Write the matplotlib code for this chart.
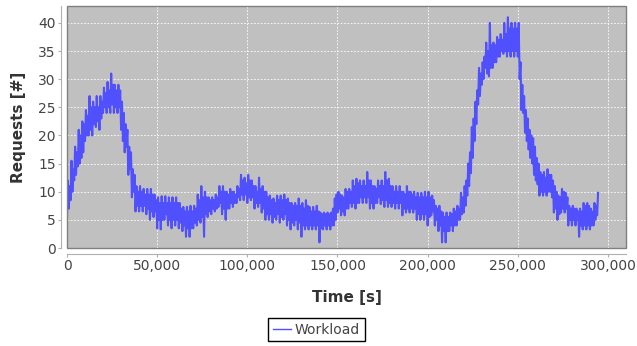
import numpy as np
import matplotlib
matplotlib.use("Agg")
import matplotlib.pyplot as plt
from matplotlib.patches import Rectangle

# Workload samples (requests), one every 500 s
workload = [
    6, 12, 7, 11, 8.5, 15.5, 10, 14, 12, 18, 13, 17, 14.5, 21, 15, 20, 16, 22.5, 17, 22,
    19, 24.5, 20, 23.5, 20, 27, 21, 25, 20, 26, 22, 25, 21.5, 27, 22.5, 25, 21, 27, 23, 26,
    24, 28.5, 25, 27.5, 24, 29.5, 25, 28, 24, 31, 25.5, 29, 24, 29, 25, 28, 24, 29, 25, 28,
    21, 26, 19, 24, 17, 22, 18, 21, 13, 18, 14, 17, 9, 14, 10, 13, 6.5, 11, 7.5, 10,
    6.5, 11, 7.5, 10, 6.5, 10.5, 7.5, 9.5, 6, 10.5, 7, 9.5, 5, 10.5, 6.5, 9.5, 5.5, 9.5, 6.5, 8.5,
    3.5, 9, 5, 8, 3.3, 9.2, 5, 8, 5, 9.2, 6, 8, 4, 9, 5, 8, 3.5, 9, 5, 8,
    4, 9, 5, 8, 3.5, 8, 4.5, 7, 3, 7.3, 4, 6.5, 2, 7.3, 3.5, 6.5, 2, 7.5, 3.5, 6.5,
    3.5, 7.5, 4.5, 7, 4, 9.5, 5, 8.5, 4.5, 11, 5.5, 9, 2, 10, 6, 9, 5.5, 9, 6.5, 8.5,
    6, 9, 7, 8.5, 6.5, 9.5, 7, 9, 7.3, 11, 8, 10, 6, 11, 7, 10, 5, 10, 7, 9.5,
    7, 10.5, 8, 10, 7.3, 10, 8, 9.5, 8, 11, 9, 10.5, 8.5, 13, 9.5, 12, 8.5, 12.5, 9.5, 11.5,
    8, 13, 9, 12, 8.5, 12, 9, 11, 7, 11, 8, 10, 7.3, 12.5, 8, 10.5, 6.3, 11, 7, 10,
    5, 10, 6, 9, 5, 9.3, 6, 8.5, 4.5, 8.8, 5.5, 8, 5, 9.3, 6, 8.5, 4.5, 9.3, 5.5, 8.5,
    5, 9.5, 6, 8.5, 4, 8.8, 5, 8, 3.3, 8, 4.5, 7.5, 4, 8, 5, 7.5, 3.3, 8.8, 4.5, 7.5,
    2, 8, 4, 7, 3.3, 8.5, 4, 7.5, 3.3, 7.3, 4, 6.5, 3.3, 7.3, 4, 6.5, 3.3, 7.5, 4, 6.5,
    1, 6.3, 3.5, 6, 3.3, 6.3, 4, 6, 3.3, 6.3, 4, 6, 3.3, 6.3, 4, 7, 4, 8.8, 5, 9.5,
    6.3, 10, 7, 9.5, 5.8, 9.3, 6.5, 9, 5.8, 10.5, 7, 10, 7, 10.5, 8, 10, 7.3, 12, 8, 11,
    7, 12.3, 8, 11.5, 8, 12, 9, 11, 8, 12, 9, 11, 8, 13.5, 9, 12, 7, 12, 8, 11,
    7, 11, 8, 10.5, 8, 12, 9, 11, 7.8, 12, 8.5, 11, 7.3, 13.5, 8.5, 12, 7.3, 12.3, 8, 11,
    7.3, 11, 8, 10, 7, 11, 8, 10, 7, 11, 8, 10, 5.8, 10, 7, 9.5, 6.3, 11, 7, 10,
    6.3, 10, 7, 9.5, 6.3, 10, 7, 9, 5, 9.8, 6, 9, 5, 9.8, 6, 9, 5, 10, 6, 9,
    4, 10, 5.5, 9, 5.8, 9.3, 6.5, 8.5, 4, 7.5, 5, 7, 3, 7.5, 4, 6.5, 1, 6.3, 3, 5.5,
    1, 6.3, 3, 5.5, 3, 6.3, 4, 6, 3, 7, 4, 6.5, 4, 7.5, 5, 7, 5, 9.8, 6, 9,
    6.3, 11, 7.5, 12, 9.3, 15, 11, 17, 13.3, 21.5, 16, 23, 19, 26, 22, 28, 25.5, 32, 27, 31,
    29, 33, 30, 34, 32, 36.5, 31, 35, 30.5, 40, 32, 36, 32, 36.5, 33, 36, 33, 37.5, 34, 37,
    34, 38, 35, 37, 34.5, 40, 35, 38, 34, 41, 35, 39, 34, 40, 35, 39, 34, 40, 35, 39,
    34, 40, 30, 33, 24.5, 29, 24, 27, 20.5, 24.5, 19, 23, 17.5, 21, 16, 20, 15, 19.5, 13, 18,
    12, 16, 11.3, 15, 9.3, 13.5, 10, 13, 9.3, 13.5, 10, 12.5, 9.3, 14, 10, 13, 10, 13, 9, 12,
    6.3, 11, 7, 10, 5, 9.3, 6, 9, 6.3, 10.5, 7, 10, 6.3, 9.8, 7, 9, 4, 7.5, 5, 7,
    4, 7.5, 5, 7, 4, 7, 5, 6.5, 2, 7, 4, 6.5, 3.3, 8, 4, 7.5, 3.3, 8, 4, 7.5,
    3.3, 7, 4, 6.5, 4, 8, 5, 7.5, 5.8, 9.8,
]
sample_step = 500
time_s = np.arange(len(workload)) * sample_step

x_ticks = [0, 50000, 100000, 150000, 200000, 250000, 300000]
y_ticks = [0, 5, 10, 15, 20, 25, 30, 35, 40]

W, H = 637, 346
fig = plt.figure(figsize=(W / 100, H / 100), dpi=100)
fig.patch.set_facecolor("white")
ax = fig.add_axes([67 / W, (H - 248) / H, (626 - 67) / W, (248 - 6) / H])
ax.set_facecolor("#C0C0C0")

ax.plot(time_s, workload, color="#5050FF", lw=1.5, label="Workload")

ax.set_xlim(0, 310000)
ax.set_ylim(0, 43)
ax.set_xticks(x_ticks)
ax.set_yticks(y_ticks)
ax.set_xticklabels([f"{v:,}" for v in x_ticks])
ax.set_yticklabels([str(v) for v in y_ticks])

ax.grid(True, color="white", linestyle=(0, (2, 2)), lw=0.6)
ax.set_axisbelow(True)

for s in ["top", "right"]:
    ax.spines[s].set_visible(False)
for s in ["left", "bottom"]:
    ax.spines[s].set_position(("outward", 4))
    ax.spines[s].set_color("#B0B0B0")
    ax.spines[s].set_linewidth(0.8)

ax.add_patch(Rectangle((0, 0), 1, 1, transform=ax.transAxes, fill=False,
                       edgecolor="#808080", lw=1.0, clip_on=False, zorder=5))

ax.tick_params(axis="both", colors="#B0B0B0", labelcolor="#444444",
               labelsize=10, length=2, width=0.8, pad=2)

ax.set_xlabel("Time [s]", fontsize=11, fontweight="bold", color="#333333", labelpad=12)
ax.set_ylabel("Requests [#]", fontsize=11, fontweight="bold", color="#333333", labelpad=9)

leg = fig.legend(handles=ax.get_lines(), loc="center",
                 bbox_to_anchor=(316.5 / W, 1 - 329.5 / H),
                 fancybox=False, edgecolor="black", framealpha=1,
                 fontsize=10, handlelength=1.3, handletextpad=0.3,
                 borderpad=0.35, borderaxespad=0)
leg.get_frame().set_linewidth(1.0)
leg.get_lines()[0].set_linewidth(1.0)
for t in leg.get_texts():
    t.set_color("#444444")

fig.savefig("out.png", dpi=100)
